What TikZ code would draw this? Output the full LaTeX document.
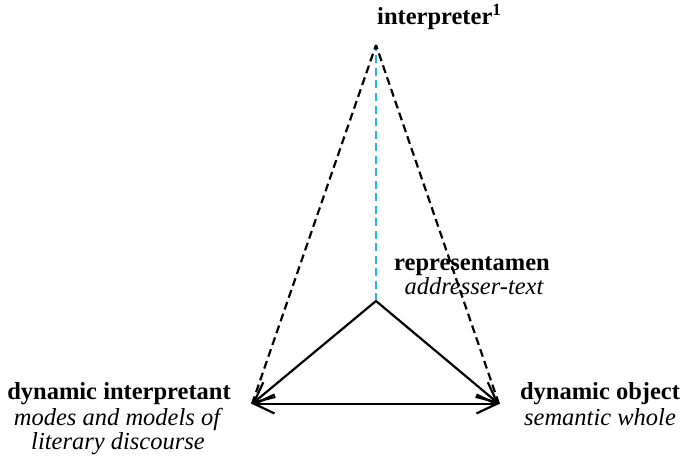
\documentclass[tikz,border=0pt]{standalone}
\usepackage{fontspec}
\setmainfont{Liberation Serif}
\usetikzlibrary{arrows.meta,calc}
\definecolor{bluedash}{RGB}{38,180,230}
\tikzset{
  lab/.style={inner sep=0pt, font=\fontsize{24.5}{25}\selectfont},
  blab/.style={lab, font=\fontsize{24.5}{25}\selectfont\bfseries},
  ilab/.style={lab, font=\fontsize{24.5}{25}\selectfont\itshape},
  solidline/.style={line width=2.2pt, line cap=round, line join=round},
  dashline/.style={line width=2.2pt, dash pattern=on 8pt off 4.5pt},
  tip/.style={-{Straight Barb[length=20pt,width=19pt,line width=2.2pt]}},
  bothtip/.style={{Straight Barb[length=20pt,width=19pt,line width=2.2pt]}-{Straight Barb[length=20pt,width=19pt,line width=2.2pt]}}
}
\begin{document}
\begin{tikzpicture}[x=1pt,y=1pt]
\useasboundingbox (0,0) rectangle (683,459);
\coordinate (I) at (376,414);
\coordinate (R) at (376,158);
\coordinate (L) at (252,55);
\coordinate (O) at (499,55);

\draw[dashline, bluedash] (R) -- ($(I)+(0,-4)$);
\draw[dashline] (L) -- (I);
\draw[dashline] (O) -- (I);
\draw[solidline, tip] (R) -- (L);
\draw[solidline, tip] (R) -- (O);
\draw[solidline, bothtip] (L) -- (O);

\node[blab, anchor=base west] (interp) at (377,434) {interpreter\textsuperscript{1}};
\node[blab, anchor=base] (rep1) at (472,189) {representamen};
\node[ilab, anchor=base] (rep2) at (474,165) {addresser-text};
\node[blab, anchor=base] (di1) at (119,60) {dynamic interpretant};
\node[ilab, anchor=base] (di2) at (117,34) {modes and models of};
\node[ilab, anchor=base] (di3) at (118,10) {literary discourse};
\node[blab, anchor=base] (do1) at (600,60) {dynamic object};
\node[ilab, anchor=base] (do2) at (600,34) {semantic whole};
\end{tikzpicture}
\end{document}
